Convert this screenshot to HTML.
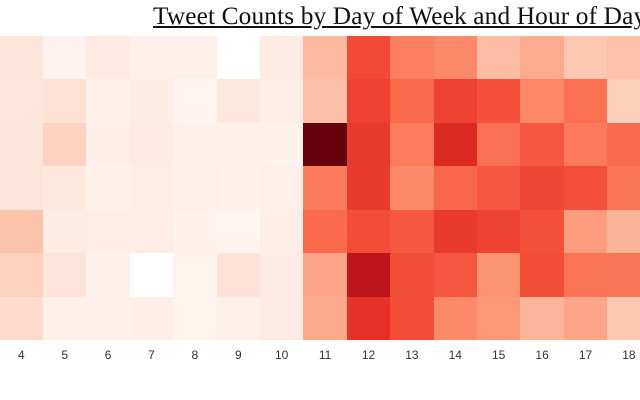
<!DOCTYPE html>
<html><head><meta charset="utf-8"><style>
html,body{margin:0;padding:0;background:#fff;width:640px;height:400px;overflow:hidden;position:relative}
.t{position:absolute;left:153px;top:1px;font-family:"Liberation Serif",serif;font-size:25.3px;letter-spacing:0.15px;color:#111;text-decoration:underline;white-space:nowrap;line-height:30px}
.c{position:absolute;width:43.6px;height:43.6px}
.l{position:absolute;top:348px;width:40px;margin-left:-20px;text-align:center;font-family:"Liberation Sans",sans-serif;font-size:12px;color:#333}
</style></head><body>
<div class="t">Tweet Counts by Day of Week and Hour of Day</div>
<div id="g"></div>
<script>
var d=[
["#fde5da","#fef2ee","#feeae2","#fef0ea","#fef0ea","#ffffff","#feebe4","#fcbba1","#f24a35","#fc7f5f","#fc8a6a","#fcbda4","#fcab8f","#fdc7b2","#fcc1a8"],
["#fee6dc","#fee2d6","#feefe9","#feece4","#fef3ee","#fee7dc","#feece6","#fcc0a7","#ef4233","#fb6a4a","#ef4232","#f4503a","#fc8767","#fb7050","#fdd0bc"],
["#fee5d9","#fdd2c1","#ffeee7","#feeae0","#fff0ea","#fff0e9","#fff1ec","#67000d","#ea3a2d","#fc7c5c","#db2924","#fb7052","#f5573f","#fb7b5b","#fb6a4a"],
["#fee5d9","#fee7dc","#fff0ea","#feede5","#fff0ea","#fff1ec","#ffefe8","#fc7b5c","#e83a2e","#fc8a6b","#f96649","#f6583f","#ee4734","#f44f39","#fb7555"],
["#fcc3ab","#feebe2","#ffede5","#ffece4","#fff1ec","#fff5f0","#ffeee8","#fb6a4a","#f24d37","#f6583f","#e83a2e","#ed4431","#f4513b","#fc9d7f","#fcb499"],
["#fdd1bf","#fee4d8","#fff1eb","#ffffff","#fff3ee","#fee2d6","#feebe4","#fca488","#bd151a","#f24d37","#f5563f","#fc9373","#f24d37","#fb7555","#fb7656"],
["#fedbcc","#fff0e9","#fff0e9","#ffeee7","#fff3ee","#fff0ec","#feebe4","#fca98c","#e6312a","#f24d37","#fc8a6a","#fc9878","#fcb59a","#fca588","#fdc8b2"]];
var h="";
for(var r=0;r<7;r++)for(var c=0;c<15;c++){h+='<div class="c" style="left:'+(c*43.4-0.5).toFixed(1)+'px;top:'+(35.5+r*43.5).toFixed(1)+'px;background:'+d[r][c]+'"></div>';}
for(var c=0;c<15;c++){h+='<div class="l" style="left:'+(21.3+c*43.4).toFixed(1)+'px">'+(c+4)+'</div>';}
document.getElementById("g").innerHTML=h;
</script>
</body></html>
